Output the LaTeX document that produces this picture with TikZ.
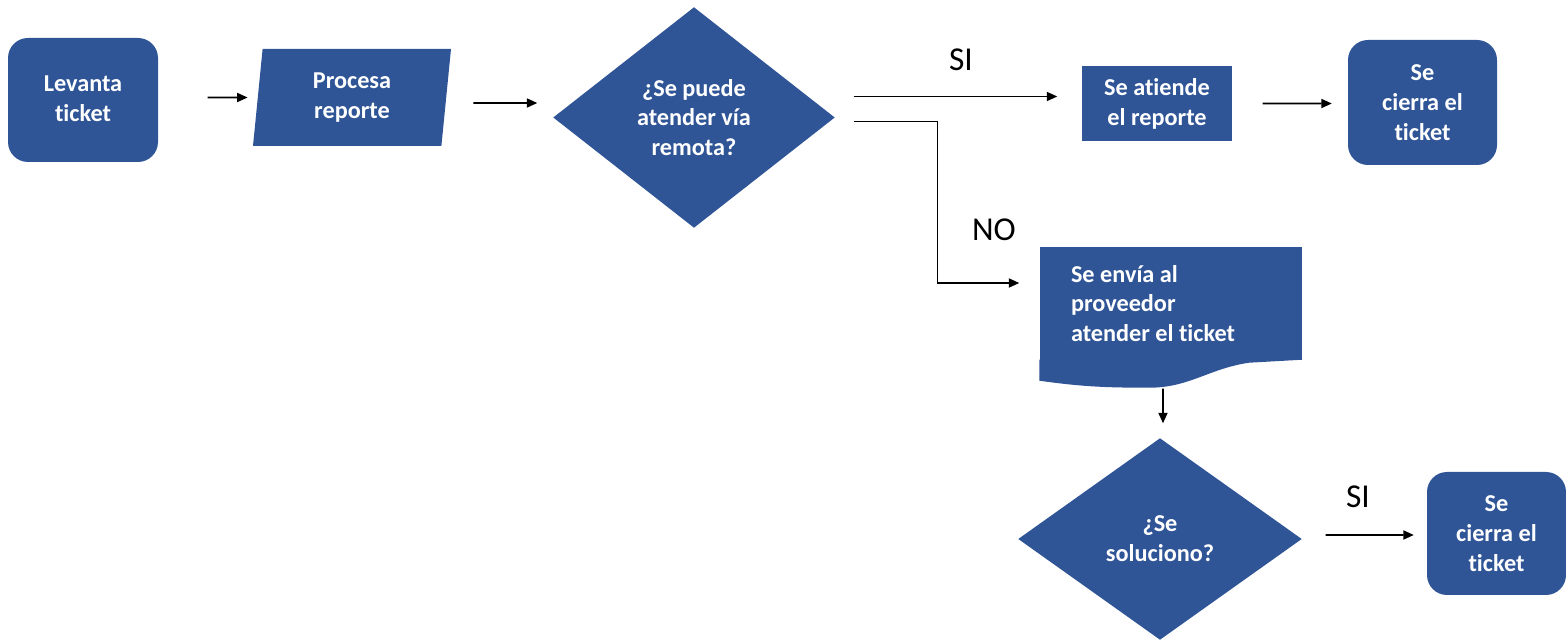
\documentclass[tikz,border=0pt]{standalone}
\usepackage{fontspec}
\setmainfont{Carlito}[Ligatures=NoCommon]
\usetikzlibrary{shapes.geometric,arrows.meta}
\definecolor{azul}{RGB}{47,85,151}
\tikzset{
	caja/.style={fill=azul, text=white, font=\fontsize{6.9}{8.5}\selectfont\bfseries, align=center, inner sep=0pt},
	redonda/.style={caja, rounded corners=0.2cm},
	decision/.style={caja, diamond, aspect=1.3},
	flecha/.style={-{Triangle[length=3pt,width=2.6pt]}, line width=0.45pt},
	etiqueta/.style={font=\fontsize{9.5}{11}\selectfont}
}
\begin{document}
\begin{tikzpicture}
				\useasboundingbox (0,0) rectangle (15.66,-6.41);
				\node[redonda, minimum width=1.50cm, minimum height=1.24cm, text depth=0.03cm] (levanta) at (0.83,-1.00) {Levanta\\ticket};
				\node[caja, trapezium, trapezium left angle=79, trapezium right angle=101, trapezium stretches body, minimum width=1.98cm, minimum height=0.97cm] (procesa) at (3.52,-0.975) {Procesa\\reporte};
				\node[decision, minimum width=2.82cm, minimum height=2.21cm] (q1) at (6.94,-1.175) {¿Se puede\\atender vía\\remota?};
				\node[caja, minimum width=1.50cm, minimum height=0.75cm] (atiende) at (11.57,-1.035) {Se atiende\\el reporte};
				\node[redonda, minimum width=1.49cm, minimum height=1.25cm] (cierra1) at (14.225,-1.025) {Se\\cierra el\\ticket};
				\node[caja, align=flush left, text width=2.00cm, inner xsep=0.31cm, minimum height=1.13cm] (envia) at (11.71,-3.035) {Se envía al\\proveedor\\atender el ticket};
				\fill[azul] ([yshift=0.01cm]envia.south west) -- ++(0,-0.21) to[out=-8,in=180] ++(1.10,-0.07) to[out=0,in=188] ++(1.0,0.25) -- ([yshift=0.01cm]envia.south east) -- cycle;
				\node[decision, minimum width=2.84cm, minimum height=2.02cm] (q2) at (11.60,-5.39) {¿Se\\soluciono?};
				\node[redonda, minimum width=1.39cm, minimum height=1.23cm] (cierra2) at (14.965,-5.335) {Se\\cierra el\\ticket};
				\node[etiqueta] (si1) at (9.61,-0.60) {SI};
				\node[etiqueta] (no) at (9.94,-2.30) {NO};
				\node[etiqueta] (si2) at (13.58,-4.97) {SI};
				\draw[flecha] ([shift={(0.49,0.025)}]levanta.east) -- ([xshift=-0.095cm]procesa.west);
				\draw[flecha] ([shift={(0.265,-0.055)}]procesa.east) -- ([shift={(-0.15,0.145)}]q1.west);
				\draw[flecha] ([shift={(0.18,0.21)}]q1.east) -- ([shift={(-0.24,0.07)}]atiende.west);
				\draw[flecha] ([shift={(0.18,-0.04)}]q1.east) -- ++(0.84,0) |- ([shift={(-0.20,0.205)}]envia.west);
				\draw[flecha] ([xshift=0.30cm]atiende.east) -- ([shift={(-0.155,-0.01)}]cierra1.west);
				\draw[flecha] ([shift={(-0.08,-0.28)}]envia.south) -- ([shift={(0.03,0.14)}]q2.north);
				\draw[flecha] ([shift={(0.23,0.04)}]q2.east) -- ([shift={(-0.125,-0.015)}]cierra2.west);
\end{tikzpicture}
\end{document}
